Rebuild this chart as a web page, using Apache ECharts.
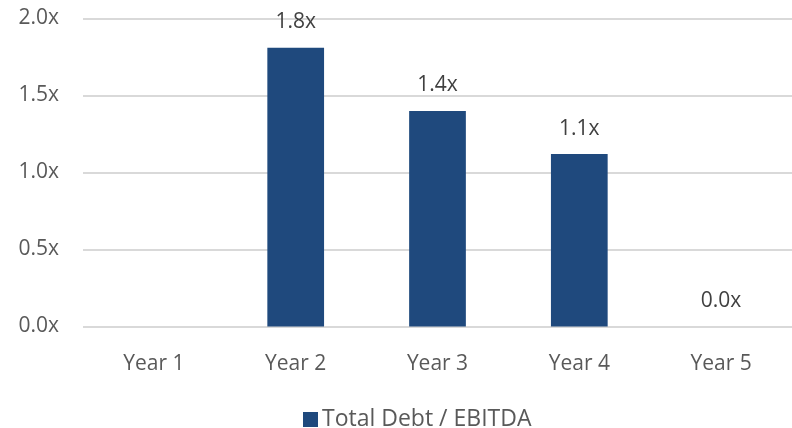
<!DOCTYPE html>
<html>
<head>
<meta charset="utf-8">
<script src="https://cdn.jsdelivr.net/npm/echarts@6/dist/echarts.min.js"></script>
<style>
  html, body { margin: 0; padding: 0; background: #ffffff; }
  #chart { width: 792px; height: 428px; }
</style>
</head>
<body>
<div id="chart"></div>
<script>
// Leverage ratio by year
const categories = ['Year 1', 'Year 2', 'Year 3', 'Year 4', 'Year 5'];
const debtToEbitda = [null, 1.81, 1.40, 1.12, 0.0];
const seriesName = 'Total Debt / EBITDA';
const yTicks = { min: 0, max: 2.0, interval: 0.5 };

const FONT = '"Open Sans", "Noto Sans", sans-serif';
const chart = echarts.init(document.getElementById('chart'), null, { renderer: 'canvas' });

chart.setOption({
  animation: false,
  backgroundColor: '#ffffff',
  textStyle: { fontFamily: FONT },
  grid: { left: 83, top: 18.5, width: 715, height: 308, containLabel: false },
  legend: {
    data: [seriesName],
    left: 298,
    top: 403,
    itemWidth: 15,
    itemHeight: 15,
    itemGap: 5,
    icon: 'rect',
    textStyle: { fontFamily: FONT, fontSize: 23, color: '#595959', padding: [0, 0, 0, -1] }
  },
  xAxis: {
    type: 'category',
    data: categories,
    axisLine: { show: false },
    axisTick: { show: false },
    axisLabel: { fontFamily: FONT, fontSize: 21, color: '#595959', margin: 27 }
  },
  yAxis: {
    type: 'value',
    min: yTicks.min,
    max: yTicks.max,
    interval: yTicks.interval,
    axisLine: { show: false },
    axisTick: { show: false },
    splitLine: { lineStyle: { color: '#d9d9d9', width: 2 } },
    axisLabel: {
      fontFamily: FONT, fontSize: 21, color: '#595959', margin: 24,
      formatter: v => v.toFixed(1) + 'x'
    }
  },
  series: [{
    name: seriesName,
    type: 'bar',
    data: debtToEbitda,
    barWidth: '40%',
    itemStyle: { color: '#1F497D' },
    label: {
      show: true,
      position: 'top',
      distance: 15,
      fontFamily: FONT,
      fontSize: 21,
      color: '#404040',
      formatter: p => (p.value == null ? '' : p.value.toFixed(1) + 'x')
    }
  }]
});
</script>
</body>
</html>
